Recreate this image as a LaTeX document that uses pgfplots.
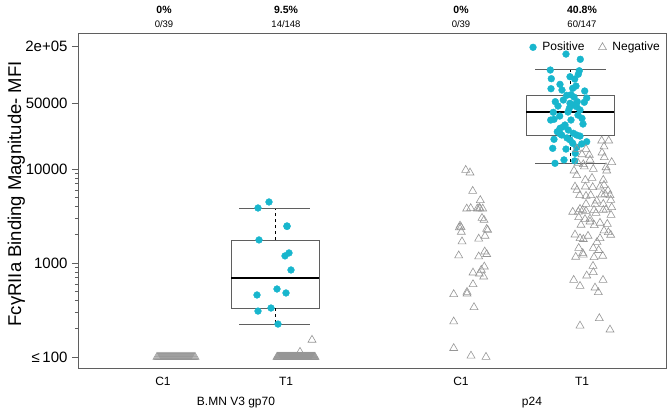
\documentclass[border=0pt]{standalone}
\usepackage{fontspec}
\setmainfont{Liberation Sans}
\usepackage{pgfplots}
\pgfplotsset{compat=1.18}
\definecolor{pos}{RGB}{24,182,205}
\definecolor{neg}{RGB}{150,150,150}
\definecolor{frame}{RGB}{95,95,95}
\begin{document}
\begin{tikzpicture}[x=1pt,y=1pt]
\useasboundingbox (0,0) rectangle (672,417);
\begin{axis}[
  at={(78pt,49pt)}, anchor=south west,
  scale only axis, width=588pt, height=335pt,
  xmin=78, xmax=666, ymode=log, ymin=76.4, ymax=280000,
  clip=false,
  axis line style={frame, line width=0.8pt},
  xtick={163,286,461,582}, xticklabels={C1,T1,C1,T1},
  x tick style={draw=none},
  xticklabel style={font=\fontsize{12}{14}\selectfont, yshift=0pt},
  ytick={100,1000,10000,50000,200000},
  yticklabels={{≤\,100},1000,10000,50000,2e+05},
  minor ytick={200,300,400,500,600,700,800,900,2000,3000,4000,5000,6000,7000,8000,9000},
  ytick pos=left, tick align=outside,
  major tick length=6pt, minor tick length=3pt,
  y tick style={frame, line width=0.6pt},
  yticklabel style={font=\fontsize{15}{17}\selectfont, xshift=-1pt},
  /pgf/number format/assume math mode=true,
  ylabel={FcγRIIa Binding Magnitude- MFI},
  ylabel style={font=\fontsize{18.5}{20}\selectfont, at={(axis description cs:-0.105,0.52)}, anchor=center},
  legend style={draw=none, fill=none, at={(rel axis cs:1,1)}, anchor=north east, xshift=-1pt, yshift=-5pt,
    font=\fontsize{12}{14}\selectfont, legend columns=2,
    /tikz/every odd column/.append style={column sep=4pt},
    /tikz/every even column/.append style={column sep=12pt}},
  legend cell align=left,
]
% ---- boxplots ----
\addplot[forget plot, frame, line width=0.8pt] coordinates {(231,332)(319,332)(319,1757)(231,1757)(231,332)};
\addplot[forget plot, black, line width=2pt] coordinates {(231,692)(319,692)};
\addplot[forget plot, black, dashed, line width=0.7pt] coordinates {(275,1757)(275,3846)};
\addplot[forget plot, black, dashed, line width=0.7pt] coordinates {(275,332)(275,224)};
\addplot[forget plot, frame, line width=0.8pt] coordinates {(239,3846)(310,3846)};
\addplot[forget plot, frame, line width=0.8pt] coordinates {(239,224)(310,224)};
\addplot[forget plot, frame, line width=0.8pt] coordinates {(526,23000)(614,23000)(614,60250)(526,60250)(526,23000)};
\addplot[forget plot, black, line width=2pt] coordinates {(526,40700)(614,40700)};
\addplot[forget plot, black, dashed, line width=0.7pt] coordinates {(570,60250)(570,115000)};
\addplot[forget plot, black, dashed, line width=0.7pt] coordinates {(570,23000)(570,11500)};
\addplot[forget plot, frame, line width=0.8pt] coordinates {(535,115000)(606,115000)};
\addplot[forget plot, frame, line width=0.8pt] coordinates {(535,11500)(606,11500)};
% ---- positives ----
\addplot[only marks, mark=*, mark size=3.4pt, color=pos] coordinates {
(566,167000)(580.3,147000)(550.3,113000)(579.3,111000)(578.3,102000)(551.3,91400)(574.7,90600)(570,95900)
(560,79600)(551,71500)(572.7,72200)(584.7,67600)(566.7,60800)(571,61700)(586.7,56900)(555.3,52000)
(563.3,54200)(577.3,52000)(584.3,51300)(570,50000)(573.3,48000)(576.7,46000)(569.3,44200)(580,42500)
(553.3,40100)(559.7,36600)(582,34600)(550.7,33200)(554,33800)(563.3,28200)(560,27100)(557.3,24900)
(561.7,23000)(568.3,26000)(573.3,24000)(576.7,23000)(580,22400)(554,20700)(570,20400)(572.7,18800)
(586.7,19500)(581.7,18500)(552.7,16600)(566,16300)(576.7,17000)(575.3,14700)(555,11500)(564,12500)
(574.7,12200)(560,23700)(565,29400)(568,40400)(574,58300)(558,46800)(583,30100)(562,69200)
(571,33200)(576,76400)(567,21400)(578,37500)
};
\addlegendentry{Positive}
\addplot[only marks, mark=*, mark size=3.4pt, color=pos, forget plot] coordinates {
(269,4460)(258,3850)(287,2480)(259,1760)(289,1280)(285,1190)(291,843)(277,529)(257,457)(286,480)
(258,308)(271,332)(278,224)(287,2450)
};
% ---- negatives ----
\addplot[only marks, mark=triangle, mark size=4.6pt, color=neg, line width=0.6pt] coordinates {
(601.7,20000)(608.7,20000)(604,17300)(602,14900)(576.7,16300)(586,16300)(582,14300)(589.3,14100)
(604.3,13300)(611.7,11800)(584.3,10600)(583.3,11200)(593.3,10000)(606,10400)(606.7,9600)(574,9600)
(576.7,8570)(585.3,7640)(603.3,7640)(575,6480)(585.3,6480)(592.7,6390)(600,6480)(608,5880)
(605,5420)(579.7,5250)(590.7,5250)(601.7,5330)(610,5250)(610.7,4680)(596.7,4600)(586,4240)
(595,4240)(603.3,4240)(611.7,3910)(580,3750)(586,3570)(594,3660)(603.3,3660)(606,3700)
(572.7,3490)(578.3,3510)(582.7,3660)(578.7,3060)(585,2920)(590,2960)(590,2750)(594.3,2520)
(607.3,2600)(604,2210)(608.3,2120)(610.7,1990)(600,1830)(575,2000)(580,1830)(583.3,1790)
(578.7,1440)(582.7,1270)(593.3,1440)(598.7,1370)(602.7,1190)(594,1150)(575.7,1160)(583.3,1220)
(593.3,796)(586.7,733)(573.7,659)(580,569)(595,546)(598.3,488)(599.3,258)(580,215)(610,195)
(596,3400)(588,1940)(600,2670)(577,5980)(592,8020)(581,2540)(604,6760)(590,12500)(611,3240)
(586,5160)(597,1670)(578,11600)(593,929)(603,659)
};
\addlegendentry{Negative}
\addplot[only marks, mark=triangle, mark size=4.6pt, color=neg, line width=0.6pt, forget plot] coordinates {
(465.7,9750)(470,9140)(472.7,5830)(480.3,4650)(466.7,3780)(470.7,3820)(477.3,3780)(479.3,3850)
(482.7,3780)(482,3010)(484,2870)(460,2490)(459.3,2380)(461.3,2140)(486.7,2300)(487.7,2240)
(485,1940)(478.7,1810)(462,1690)(484.7,1320)(486.7,1240)(458.7,1200)(478.7,1170)(484.3,914)
(481.3,843)(473,789)(479.3,769)(483.7,715)(473,593)(453.7,465)(467,491)(467,471)
(474,338)(453.7,238)(453.7,124)(471,103)(486,100)(461,2400)(480,3800)
};
\addplot[only marks, mark=triangle, mark size=4.6pt, color=neg, line width=0.6pt, forget plot] coordinates {
(157,100)(158,100)(159,100)(160,100)(161,100)(162,100)(163,100)(164,100)(165,100)(166,100)
(167,100)(168,100)(169,100)(170,100)(171,100)(172,100)(173,100)(174,100)(175,100)(176,100)
(177,100)(178,100)(179,100)(180,100)(181,100)(182,100)(183,100)(184,100)(185,100)(186,100)
(187,100)(188,100)(189,100)(190,100)(191,100)(192,100)(193,100)(194,100)(195,100)
};
\addplot[only marks, mark=triangle, mark size=4.6pt, color=neg, line width=0.6pt, forget plot] coordinates {
(277,100)(278,100)(279,100)(280,100)(281,100)(282,100)(283,100)(284,100)(285,100)(286,100)
(287,100)(288,100)(289,100)(290,100)(291,100)(292,100)(293,100)(294,100)(295,100)(296,100)
(297,100)(298,100)(299,100)(300,100)(301,100)(302,100)(303,100)(304,100)(305,100)(306,100)
(307,100)(308,100)(309,100)(310,100)(311,100)(312,100)(313,100)(314,100)(315,100)
(277.5,100)(278.5,100)(279.5,100)(280.5,100)(281.5,100)(282.5,100)(283.5,100)(284.5,100)
(285.5,100)(286.5,100)(287.5,100)(288.5,100)(289.5,100)(290.5,100)(291.5,100)(292.5,100)
(293.5,100)(294.5,100)(295.5,100)(296.5,100)(297.5,100)(298.5,100)(299.5,100)(300.5,100)
(301.5,100)(302.5,100)(303.5,100)(304.5,100)(305.5,100)(306.5,100)(307.5,100)(308.5,100)
(309.5,100)(310.5,100)(311.5,100)(312.5,100)(313.5,100)(314.5,100)
(312,152)(300,113)
};
% ---- annotations ----
\node[font=\fontsize{10.5}{12}\bfseries] at (axis cs:164,280000) [yshift=23pt] {0\%};
\node[font=\fontsize{9.5}{11}\selectfont] at (axis cs:164,280000) [yshift=9pt] {0/39};
\node[font=\fontsize{10.5}{12}\bfseries] at (axis cs:286,280000) [yshift=23pt] {9.5\%};
\node[font=\fontsize{9.5}{11}\selectfont] at (axis cs:286,280000) [yshift=9pt] {14/148};
\node[font=\fontsize{10.5}{12}\bfseries] at (axis cs:461,280000) [yshift=23pt] {0\%};
\node[font=\fontsize{9.5}{11}\selectfont] at (axis cs:461,280000) [yshift=9pt] {0/39};
\node[font=\fontsize{10.5}{12}\bfseries] at (axis cs:582,280000) [yshift=23pt] {40.8\%};
\node[font=\fontsize{9.5}{11}\selectfont] at (axis cs:582,280000) [yshift=9pt] {60/147};
\node[font=\fontsize{12}{14}\selectfont] at (axis cs:236,76.4) [yshift=-35pt] {B.MN V3 gp70};
\node[font=\fontsize{12}{14}\selectfont] at (axis cs:532,76.4) [yshift=-35pt] {p24};
\end{axis}
\end{tikzpicture}
\end{document}
